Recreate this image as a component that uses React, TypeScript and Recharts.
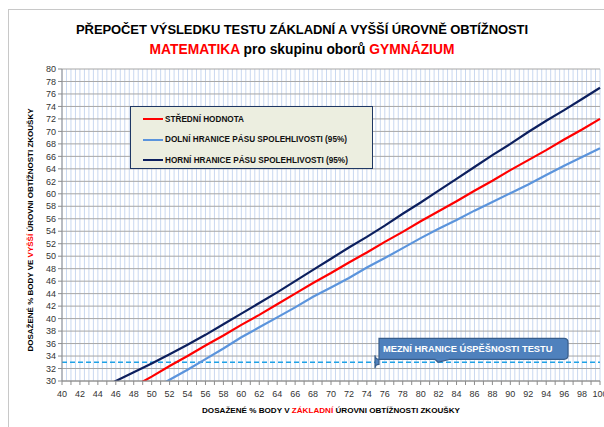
import React from "react";
import {
  LineChart,
  Line,
  XAxis,
  YAxis,
  CartesianGrid,
  ReferenceLine,
} from "recharts";

// hodnoty (x = body v základní úrovni)
const xValues = [
  40, 42, 44, 46, 48, 50, 52, 54, 56, 58, 60, 62, 64, 66, 68, 70, 72, 74, 76,
  78, 80, 82, 84, 86, 88, 90, 92, 94, 96, 98, 100,
];
const stredni = [
  22.5, 24.1, 25.8, 27.4, 29.1, 30.7, 32.4, 34.0, 35.7, 37.3, 39.0, 40.6, 42.3,
  44.0, 45.7, 47.3, 49.0, 50.6, 52.3, 53.9, 55.6, 57.2, 58.8, 60.5, 62.1, 63.8,
  65.4, 67.0, 68.7, 70.3, 72.0,
];
const dolni = [
  19.8, 21.5, 23.3, 25.0, 26.8, 28.5, 30.2, 31.8, 33.5, 35.2, 37.0, 38.6, 40.2,
  41.8, 43.5, 45.0, 46.5, 48.2, 49.7, 51.3, 52.9, 54.4, 55.8, 57.3, 58.7, 60.1,
  61.5, 63.0, 64.5, 65.9, 67.3,
];
const horni = [
  25.8, 27.1, 28.5, 30.0, 31.4, 32.8, 34.3, 35.8, 37.4, 39.1, 40.8, 42.5, 44.2,
  46.0, 47.8, 49.6, 51.4, 53.1, 54.9, 56.8, 58.6, 60.5, 62.4, 64.3, 66.2, 68.0,
  69.9, 71.7, 73.4, 75.2, 77.0,
];
const yTicks = [
  30, 32, 34, 36, 38, 40, 42, 44, 46, 48, 50, 52, 54, 56, 58, 60, 62, 64, 66,
  68, 70, 72, 74, 76, 78, 80,
];
const xTicks = Array.from({ length: 61 }, (_, i) => 40 + i);
const gridTicks = Array.from({ length: 121 }, (_, i) => 40 + i / 2);
const mez = 33;

const data = xValues.map((x, i) => ({
  x,
  stredni: stredni[i],
  dolni: dolni[i],
  horni: horni[i],
}));

const legendItems = [
  { label: "STŘEDNÍ HODNOTA", color: "#ff0000" },
  { label: "DOLNÍ HRANICE PÁSU SPOLEHLIVOSTI (95%)", color: "#5b94dc" },
  { label: "HORNÍ HRANICE PÁSU SPOLEHLIVOSTI (95%)", color: "#0c1f5e" },
];

const font = "'Liberation Sans', Arial, sans-serif";

const LegendBox = () => (
  <div
    style={{
      position: "absolute",
      left: 130,
      top: 106,
      width: 243,
      height: 63,
      background: "#eceee0",
      border: "1px solid #1f3864",
      boxSizing: "border-box",
      padding: "2px 0 0 12px",
      fontFamily: font,
      fontWeight: "bold",
      fontSize: 8.2,
      color: "#111",
    }}
  >
    {legendItems.map((it) => (
      <div
        key={it.label}
        style={{ display: "flex", alignItems: "center", height: 20.5 }}
      >
        <span
          style={{
            display: "inline-block",
            width: 20,
            height: 2,
            background: it.color,
            marginRight: 2,
          }}
        />
        {it.label}
      </div>
    ))}
  </div>
);

const Callout = (props: any) => {
  const { viewBox } = props;
  if (!viewBox) return null;
  const x0 = viewBox.x + 313;
  const y0 = viewBox.y - 24;
  const w = 193;
  const h = 21;
  return (
    <g>
      <path
        d={`M${x0 + 4},${y0} h${w - 8} q4,0 4,4 v${h - 8} q0,4 -4,4 H${x0 + 75} l-12,3 l-3,-3 H${x0 + 4} q-4,0 -4,-4 v${h - 8} q0,-4 4,-4 z`}
        fill="#4f81bd"
        stroke="#385d8a"
        strokeWidth={1.2}
      />
      <text
        x={x0 + 8}
        y={y0 + 13.5}
        fill="#fff"
        fontFamily={font}
        fontWeight="bold"
        fontSize={9.3}
      >
        MEZNÍ HRANICE ÚSPĚŠNOSTI TESTU
      </text>
    </g>
  );
};

export default function App() {
  return (
    <div
      style={{
        position: "absolute",
        left: 0,
        top: 0,
        width: 604,
        height: 427,
        background: "#fff",
        overflow: "hidden",
      }}
    >
      <div
        style={{
          position: "absolute",
          left: 8,
          top: 9,
          width: 620,
          height: 440,
          border: "1px solid #c8c8c8",
        }}
      />
      <div
        style={{
          position: "absolute",
          left: 0,
          top: 20,
          width: 604,
          textAlign: "center",
          fontFamily: font,
          fontWeight: "bold",
          fontSize: 13,
          color: "#000",
          lineHeight: "20px",
        }}
      >
        <div style={{ letterSpacing: -0.1 }}>
          PŘEPOČET VÝSLEDKU TESTU ZÁKLADNÍ A VYŠŠÍ ÚROVNĚ OBTÍŽNOSTI
        </div>
        <div style={{ fontSize: 13.8 }}>
          <span style={{ color: "#ff0000" }}>MATEMATIKA</span> pro skupinu
          oborů <span style={{ color: "#ff0000" }}>GYMNÁZIUM</span>
        </div>
      </div>

      <div
        style={{
          position: "absolute",
          left: 30,
          top: 230,
          transform: "translate(-50%, -50%) rotate(-90deg)",
          whiteSpace: "nowrap",
          fontFamily: font,
          fontWeight: "bold",
          fontSize: 8,
          color: "#000",
        }}
      >
        DOSAŽENÉ % BODY VE <span style={{ color: "#ff0000" }}>VYŠŠÍ</span>{" "}
        ÚROVNI OBTÍŽNOSTI ZKOUŠKY
      </div>
      <div
        style={{
          position: "absolute",
          left: 331,
          top: 410,
          transform: "translate(-50%, -50%)",
          whiteSpace: "nowrap",
          fontFamily: font,
          fontWeight: "bold",
          fontSize: 8.1,
          color: "#000",
        }}
      >
        DOSAŽENÉ % BODY V <span style={{ color: "#ff0000" }}>ZÁKLADNÍ</span>{" "}
        ÚROVNI OBTÍŽNOSTI ZKOUŠKY
      </div>

      <div style={{ position: "absolute", left: 0, top: 0 }}>
        <LineChart
          width={604}
          height={427}
          data={data}
          margin={{ top: 69, right: 4, bottom: 16, left: 32 }}
        >
          <XAxis
            xAxisId="grid"
            type="number"
            dataKey="x"
            domain={[40, 100]}
            ticks={gridTicks}
            interval={0}
            hide
          />
          <CartesianGrid
            xAxisId="grid"
            horizontal={false}
            stroke="#c9d8f0"
            strokeWidth={1}
          />
          <CartesianGrid vertical={false} stroke="#a6a6a6" strokeWidth={1} />
          <XAxis
            dataKey="x"
            type="number"
            domain={[40, 100]}
            ticks={xTicks}
            interval={0}
            height={30}
            tickSize={4}
            tickMargin={6}
            stroke="#8c8c8c"
            tick={{ fontSize: 9, fill: "#333", fontFamily: font }}
            tickFormatter={(v: number) => (v % 2 === 0 ? String(v) : "")}
          />
          <YAxis
            type="number"
            domain={[30, 80]}
            ticks={yTicks}
            interval={0}
            allowDataOverflow
            width={30}
            tickSize={4}
            tickMargin={2}
            stroke="#8c8c8c"
            tick={{ fontSize: 9, fill: "#333", fontFamily: font }}
          />
          <ReferenceLine
            y={mez}
            stroke="#1fa2e6"
            strokeWidth={1.5}
            strokeDasharray="5 3"
            label={<Callout />}
          />
          <Line
            type="linear"
            dataKey="horni"
            stroke="#0c1f5e"
            strokeWidth={2.2}
            dot={false}
            isAnimationActive={false}
          />
          <Line
            type="linear"
            dataKey="stredni"
            stroke="#ff0000"
            strokeWidth={2.2}
            dot={false}
            isAnimationActive={false}
          />
          <Line
            type="linear"
            dataKey="dolni"
            stroke="#5b94dc"
            strokeWidth={2.2}
            dot={false}
            isAnimationActive={false}
          />
        </LineChart>
      </div>
      <LegendBox />
    </div>
  );
}
